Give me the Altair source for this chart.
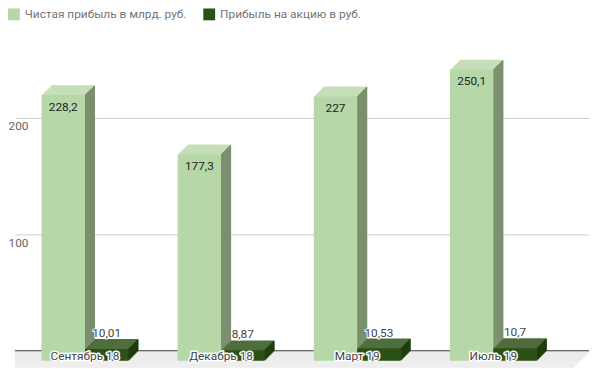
import altair as alt
import pandas as pd

categories = ["Сентябрь 18", "Декабрь 18", "Март 19", "Июль 19"]
net_profit = [228.2, 177.3, 227.0, 250.1]
net_labels = ["228,2", "177,3", "227", "250,1"]
eps = [10.01, 8.87, 10.53, 10.7]
eps_labels = ["10,01", "8,87", "10,53", "10,7"]
series_names = ["Чистая прибыль в млрд. руб.", "Прибыль на акцию в руб."]
y_ticks = [100, 200]

LIGHT_FRONT, LIGHT_TOP, LIGHT_SIDE = "#b6d7a8", "#c5e0b9", "#7b8f6e"
DARK_FRONT, DARK_TOP, DARK_SIDE = "#2a5116", "#4f6e3c", "#1c390d"
FONT = "Roboto"

df_net = pd.DataFrame({"cat": categories, "value": net_profit, "label": net_labels, "series": series_names[0]})
df_eps = pd.DataFrame({"cat": categories, "value": eps, "label": eps_labels, "series": series_names[1]})
df_base = pd.DataFrame({"cat": categories, "value": [0] * len(categories)})

X = alt.X("cat:N", sort=categories,
          scale=alt.Scale(domain=categories, paddingInner=0, paddingOuter=0.1087, align=0.4),
          axis=None)
Y = alt.Y("value:Q", scale=alt.Scale(domain=[0, 278], nice=False, zero=True),
          axis=alt.Axis(values=y_ticks, grid=True, gridColor="#cccccc", gridWidth=1,
                        domain=False, ticks=False, labelAlign="left", labelBaseline="top",
                        labelPadding=7, labelOffset=3, labelFont=FONT, labelFontSize=12,
                        labelColor="#666666", title=None))
COLOR = alt.Color("series:N",
                  scale=alt.Scale(domain=series_names, range=[LIGHT_FRONT, DARK_FRONT]),
                  legend=alt.Legend(orient="none", legendX=-7, legendY=-19, direction="horizontal",
                                    title=None, symbolType="square", symbolSize=144,
                                    symbolStrokeWidth=0, labelFont=FONT, labelFontSize=12,
                                    labelColor="#757575", labelOffset=5, columnPadding=16,
                                    labelLimit=0, padding=0))

layers = []

# floor
base_one = df_base.iloc[:1]
for k in range(16):
    layers.append(alt.Chart(base_one).mark_rule(color="#ececec", strokeWidth=1.5,
                                                 yOffset=k + 1.5, xOffset=-k, x2Offset=-k)
                  .encode(y=Y))
# baseline
layers.append(alt.Chart(base_one).mark_rule(color="#333333", strokeWidth=1).encode(y=Y))

DEPTH = 10
BW = 44


def bar_layers(df, fc, top_c, side_c):
    out = []
    for k in range(DEPTH, 0, -1):
        out.append(alt.Chart(df).mark_bar(width=BW, xOffset=fc + k, yOffset=DEPTH - k,
                                          y2Offset=DEPTH - k, color=top_c)
                   .encode(x=X, y=Y))
    for k in range(DEPTH, 0, -1):
        out.append(alt.Chart(df).mark_bar(width=1.4, xOffset=fc + BW / 2 + k - 0.5,
                                          yOffset=DEPTH - k + 0.5, y2Offset=DEPTH - k,
                                          color=side_c)
                   .encode(x=X, y=Y))
    out.append(alt.Chart(df).mark_bar(width=BW, xOffset=fc, yOffset=DEPTH, y2Offset=DEPTH)
               .encode(x=X, y=Y, color=COLOR))
    return out


layers += bar_layers(df_net, -DEPTH - BW / 2, LIGHT_TOP, LIGHT_SIDE)
layers += bar_layers(df_eps, -DEPTH + BW / 2, DARK_TOP, DARK_SIDE)

# value labels
layers.append(alt.Chart(df_net).mark_text(dx=-DEPTH - BW / 2, dy=26, baseline="alphabetic",
                                          font=FONT, fontSize=12, color="#222222")
              .encode(x=X, y=Y, text="label:N"))
layers.append(alt.Chart(df_eps).mark_text(dx=-DEPTH + BW / 2, dy=-2, baseline="alphabetic",
                                          font=FONT, fontSize=12, stroke="white", strokeWidth=2,
                                          strokeJoin="round", color="white")
              .encode(x=X, y=Y, text="label:N"))
layers.append(alt.Chart(df_eps).mark_text(dx=-DEPTH + BW / 2, dy=-2, baseline="alphabetic",
                                          font=FONT, fontSize=12, color="#444444")
              .encode(x=X, y=Y, text="label:N"))

# category labels with halo
layers.append(alt.Chart(df_base).mark_text(dx=-DEPTH, dy=9, baseline="alphabetic", font=FONT,
                                           fontSize=12, stroke="white", strokeWidth=3,
                                           strokeJoin="round", color="white")
              .encode(x=X, y=Y, text="cat:N"))
layers.append(alt.Chart(df_base).mark_text(dx=-DEPTH, dy=9, baseline="alphabetic", font=FONT,
                                           fontSize=12, color="#444444")
              .encode(x=X, y=Y, text="cat:N"))

chart = alt.layer(*layers).properties(
    width=582, height=328,
    padding={"left": 7, "top": 17, "right": 0, "bottom": 16},
    autosize=alt.AutoSizeParams(type="none"),
    background="white",
).configure_view(stroke=None)

chart.save("out.html", embed_options={"renderer": "svg", "actions": False})
